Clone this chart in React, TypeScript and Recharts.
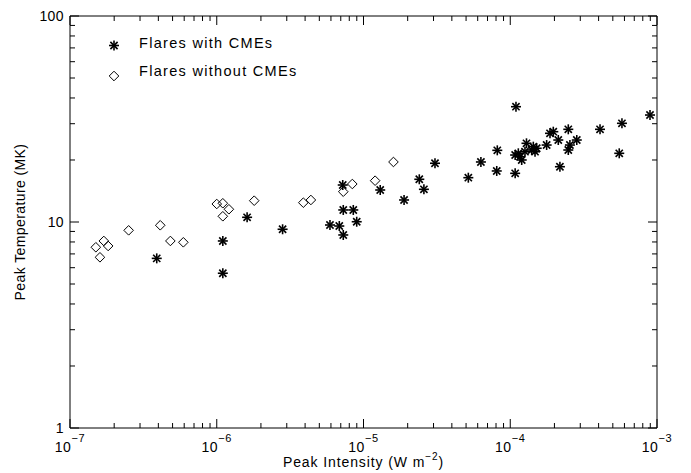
import React from "react";
import {
  ScatterChart,
  Scatter,
  XAxis,
  YAxis,
  ReferenceArea,
  Legend,
} from "recharts";

// flares with CMEs (peak intensity W m^-2, peak temperature MK)
const CME_INTENSITY = [
  3.9e-7, 1.1e-6, 1.1e-6, 1.61e-6, 2.81e-6, 5.91e-6, 6.84e-6, 7.28e-6,
  7.28e-6, 8.52e-6, 8.99e-6, 7.22e-6, 1.3e-5, 1.89e-5, 2.4e-5, 2.58e-5,
  3.07e-5, 5.18e-5, 6.31e-5, 8.16e-5, 8.09e-5, 1.094e-4, 1.08e-4, 1.08e-4,
  1.135e-4, 1.197e-4, 1.165e-4, 1.26e-4, 1.29e-4, 1.4e-4, 1.475e-4, 1.436e-4,
  1.514e-4, 1.77e-4, 1.866e-4, 1.965e-4, 2.125e-4, 2.18e-4, 2.486e-4, 2.84e-4,
  2.55e-4, 2.486e-4, 4.09e-4, 5.77e-4, 5.53e-4, 8.96e-4,
];
const CME_TEMP = [
  6.66, 8.09, 5.64, 10.54, 9.22, 9.67, 9.56, 8.65, 11.44, 11.44, 10.03, 15.12,
  14.3, 12.79, 16.12, 14.41, 19.28, 16.41, 19.56, 22.28, 17.69, 36.28, 17.23,
  21.14, 21.55, 20.0, 20.75, 21.94, 24.1, 22.36, 21.94, 23.21, 22.8, 23.64,
  26.95, 27.44, 25.0, 18.55, 28.18, 25.0, 23.64, 22.36, 28.18, 30.14, 21.55,
  33.06,
];

// flares without CMEs
const NOCME_INTENSITY = [
  1.5e-7, 1.6e-7, 1.7e-7, 1.82e-7, 2.51e-7, 4.12e-7, 4.83e-7, 5.92e-7, 1.0e-6,
  1.1e-6, 1.21e-6, 1.1e-6, 1.8e-6, 3.89e-6, 4.38e-6, 7.28e-6, 8.39e-6, 1.2e-5,
  1.6e-5,
];
const NOCME_TEMP = [
  7.54, 6.74, 8.09, 7.65, 9.11, 9.64, 8.09, 7.97, 12.23, 12.33, 11.53, 10.66,
  12.69, 12.41, 12.79, 14.03, 15.29, 15.87, 19.56,
];

const X_DECADES = [1e-7, 1e-6, 1e-5, 1e-4];
const Y_DECADES = [1, 10];
const MINOR_STEPS = [1, 2, 3, 4, 5, 6, 7, 8, 9];

const X_TICKS = [...X_DECADES.flatMap((d) => MINOR_STEPS.map((m) => m * d)), 1e-3];
const Y_TICKS = [...Y_DECADES.flatMap((d) => MINOR_STEPS.map((m) => m * d)), 100];

const cmeData = CME_INTENSITY.map((x, i) => ({ x, y: CME_TEMP[i] }));
const noCmeData = NOCME_INTENSITY.map((x, i) => ({ x, y: NOCME_TEMP[i] }));

const FONT = '"Liberation Sans", Arial, sans-serif';
const PLOT_W = 587;
const PLOT_H = 412;

const isMajor = (v: number) => {
  const l = Math.log10(v);
  return Math.abs(l - Math.round(l)) < 1e-6;
};

const Asterisk = ({ cx, cy }: { cx?: number; cy?: number }) => {
  if (cx == null || cy == null) return null;
  const r = 5;
  const d = r * 0.72;
  return (
    <g stroke="#000" strokeWidth={1.6}>
      <line x1={cx - r} y1={cy} x2={cx + r} y2={cy} />
      <line x1={cx} y1={cy - r} x2={cx} y2={cy + r} />
      <line x1={cx - d} y1={cy - d} x2={cx + d} y2={cy + d} />
      <line x1={cx - d} y1={cy + d} x2={cx + d} y2={cy - d} />
    </g>
  );
};

const Diamond = ({ cx, cy }: { cx?: number; cy?: number }) => {
  if (cx == null || cy == null) return null;
  const r = 4.8;
  return (
    <polygon
      points={`${cx},${cy - r} ${cx + r},${cy} ${cx},${cy + r} ${cx - r},${cy}`}
      fill="none"
      stroke="#000"
      strokeWidth={1}
    />
  );
};

const XTick = (props: any) => {
  const { x, y, payload } = props;
  const v = payload.value;
  const major = isMajor(v);
  const len = major ? 9 : 5;
  const exp = Math.round(Math.log10(v));
  return (
    <g>
      <line x1={x} y1={y} x2={x} y2={y - len} stroke="#000" />
      <line x1={x} y1={y - PLOT_H} x2={x} y2={y - PLOT_H + len} stroke="#000" />
      {major && (
        <text
          x={x}
          y={y + 24}
          textAnchor="middle"
          fontFamily={FONT}
          fontSize={14}
          letterSpacing={0.6}
          fill="#000">
          10
          <tspan dy={-10} fontSize={11}>
            {`\u2212${Math.abs(exp)}`}
          </tspan>
        </text>
      )}
    </g>
  );
};

const YTick = (props: any) => {
  const { x, y, payload } = props;
  const v = payload.value;
  const major = isMajor(v);
  const len = major ? 9 : 5;
  return (
    <g>
      <line x1={x} y1={y} x2={x + len} y2={y} stroke="#000" />
      <line x1={x + PLOT_W} y1={y} x2={x + PLOT_W - len} y2={y} stroke="#000" />
      {major && (
        <text
          x={x - 6}
          y={y + 5}
          textAnchor="end"
          fontFamily={FONT}
          fontSize={14}
          letterSpacing={0.4}
          fill="#000">
          {v}
        </text>
      )}
    </g>
  );
};

const XTitle = (props: any) => {
  const vb = props.viewBox || { x: 70, y: 428, width: PLOT_W, height: 45 };
  return (
    <text
      x={vb.x + vb.width / 2}
      y={467}
      textAnchor="middle"
      fontFamily={FONT}
      fontSize={14}
      letterSpacing={0.9}
      fill="#000">
      Peak Intensity (W m
      <tspan dy={-7} fontSize={10}>
        {"\u22122"}
      </tspan>
      <tspan dy={7}>)</tspan>
    </text>
  );
};

const YTitle = (props: any) => {
  const vb = props.viewBox || { x: 0, y: 16, width: 70, height: PLOT_H };
  const cy = vb.y + vb.height / 2;
  return (
    <text
      x={25}
      y={cy}
      transform={`rotate(-90, 25, ${cy})`}
      textAnchor="middle"
      fontFamily={FONT}
      fontSize={14}
      letterSpacing={0.4}
      fill="#000">
      Peak Temperature (MK)
    </text>
  );
};

const renderLegend = () => (
  <svg width={240} height={64}>
    <Asterisk cx={14} cy={17.5} />
    <text x={39} y={20} fontFamily={FONT} fontSize={14.5} letterSpacing={1.3} fill="#000">
      Flares with CMEs
    </text>
    <Diamond cx={14} cy={48} />
    <text x={39} y={48} fontFamily={FONT} fontSize={14.5} letterSpacing={1.3} fill="#000">
      Flares without CMEs
    </text>
  </svg>
);

export default function App() {
  return (
    <div
      style={{
        position: "absolute",
        left: 0,
        top: 0,
        width: 691,
        height: 473,
        background: "#fff",
      }}>
      <ScatterChart
        width={691}
        height={473}
        margin={{ top: 16, right: 34, bottom: 0, left: 0 }}>
        <XAxis
          type="number"
          dataKey="x"
          scale="log"
          domain={[1e-7, 1e-3]}
          allowDataOverflow
          ticks={X_TICKS}
          interval={0}
          height={45}
          axisLine={false}
          tickLine={false}
          tickSize={0}
          tickMargin={0}
          tick={XTick}
          label={<XTitle />}
        />
        <YAxis
          type="number"
          dataKey="y"
          scale="log"
          domain={[1, 100]}
          allowDataOverflow
          ticks={Y_TICKS}
          interval={0}
          width={70}
          axisLine={false}
          tickLine={false}
          tickSize={0}
          tickMargin={0}
          tick={YTick}
          label={<YTitle />}
        />
        <ReferenceArea
          x1={1e-7}
          x2={1e-3}
          y1={1}
          y2={100}
          fill="none"
          stroke="#000"
          strokeWidth={1}
          ifOverflow="visible"
        />
        <Legend
          content={renderLegend}
          layout="vertical"
          align="center"
          verticalAlign="middle"
          wrapperStyle={{ left: 100, top: 28, width: 240, height: 64 }}
        />
        <Scatter
          name="Flares without CMEs"
          data={noCmeData}
          shape={(p: any) => <Diamond cx={p.cx} cy={p.cy} />}
          isAnimationActive={false}
        />
        <Scatter
          name="Flares with CMEs"
          data={cmeData}
          shape={(p: any) => <Asterisk cx={p.cx} cy={p.cy} />}
          isAnimationActive={false}
        />
      </ScatterChart>
    </div>
  );
}
